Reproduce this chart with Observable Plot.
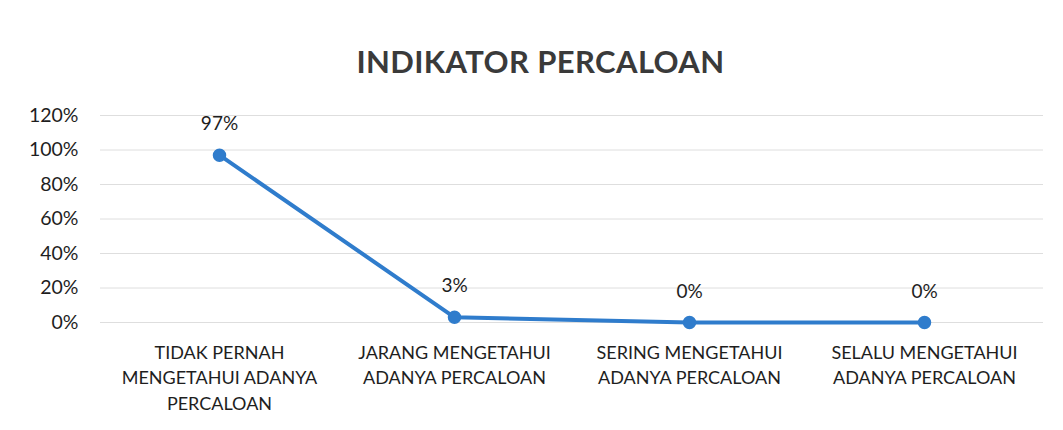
<!DOCTYPE html>
<html>
<head>
<meta charset="utf-8">
<script src="https://cdn.jsdelivr.net/npm/d3@7"></script>
<script src="https://cdn.jsdelivr.net/npm/@observablehq/plot@0.6"></script>
<style>
  body { margin: 0; background: #fff; font-family: Lato, "Open Sans", sans-serif; }
  #title { height: 90px; box-sizing: border-box; padding-top: 44px; padding-left: 18px; text-align: center; font-size: 31px; font-weight: bold; color: #3a3a3a; line-height: 34px; letter-spacing: 0.4px; }
</style>
</head>
<body>
<div id="title">INDIKATOR PERCALOAN</div>
<div id="chart"></div>
<script>
const categories = [
  "TIDAK PERNAH\nMENGETAHUI ADANYA\nPERCALOAN",
  "JARANG MENGETAHUI\nADANYA PERCALOAN",
  "SERING MENGETAHUI\nADANYA PERCALOAN",
  "SELALU MENGETAHUI\nADANYA PERCALOAN"
];
const values = [0.97, 0.03, 0.0, 0.0];
const valueLabels = ["97%", "3%", "0%", "0%"];
const yTicks = [0, 0.2, 0.4, 0.6, 0.8, 1.0, 1.2];

const data = categories.map((c, i) => ({cat: c, v: values[i], label: valueLabels[i]}));
const blue = "#2f7ccc";

const chart = Plot.plot({
  width: 1063,
  height: 340,
  marginTop: 25,
  marginBottom: 108,
  marginLeft: 100,
  marginRight: 20,
  style: {fontFamily: "Lato, 'Open Sans', sans-serif", fontSize: "18px", color: "#1e1e1e", background: "#fff"},
  x: {type: "point", domain: categories, padding: 0.5, label: null},
  y: {domain: [0, 1.2], label: null},
  marks: [
    Plot.gridY(yTicks, {stroke: "#dedede", strokeOpacity: 1, strokeWidth: 1}),
    Plot.axisY({ticks: yTicks, tickFormat: d => Math.round(d * 100) + "%", tickSize: 0, tickPadding: 22, fontSize: 19.5, fill: "#1e1e1e", label: null}),
    Plot.axisX({tickSize: 0, tickPadding: 18, fontSize: 18, lineHeight: 1.42, fill: "#1e1e1e", label: null}),
    Plot.line(data, {x: "cat", y: "v", stroke: blue, strokeWidth: 4}),
    Plot.dot(data, {x: "cat", y: "v", r: 6, fill: blue, stroke: blue}),
    Plot.text(data, {x: "cat", y: "v", text: "label", dy: -31, fontSize: 19, fill: "#1e1e1e"})
  ]
});
document.getElementById("chart").appendChild(chart);
</script>
</body>
</html>
